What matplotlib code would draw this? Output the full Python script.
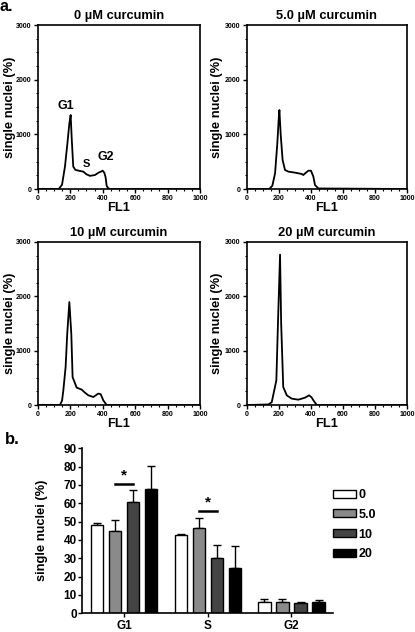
import numpy as np
import matplotlib
matplotlib.use('Agg')
import matplotlib.pyplot as plt
from matplotlib.patches import Patch

plt.rcParams['font.family'] = ['Liberation Sans', 'DejaVu Sans']
plt.rcParams['font.weight'] = 'bold'

# --- panel a: DNA content histograms ---
titles = ['0 µM curcumin', '5.0 µM curcumin', '10 µM curcumin', '20 µM curcumin']

fl_0 = [0, 130, 150, 168, 183, 195, 203, 210, 219, 232, 260, 281, 300, 322, 353,
        375, 390, 400, 410, 418, 425, 435, 445, 1000]
cnt_0 = [0, 0, 80, 410, 835, 1200, 1354, 900, 410, 350, 330, 318, 270, 240, 256,
         300, 318, 335, 300, 220, 55, 15, 0, 0]

fl_5 = [0, 140, 160, 177, 191, 200, 204, 212, 224, 239, 260, 300, 343, 353, 370,
        385, 401, 416, 426, 447, 1000]
cnt_5 = [0, 0, 60, 287, 835, 1300, 1445, 1000, 530, 348, 318, 300, 275, 256, 300,
         335, 335, 225, 73, 10, 0]

fl_10 = [0, 137, 150, 158, 172, 182, 195, 207, 215, 240, 271, 290, 312, 343, 373,
         388, 404, 425, 1000]
cnt_10 = [0, 0, 80, 270, 700, 1313, 1895, 1313, 515, 320, 283, 230, 178, 147, 210,
          200, 86, 0, 0]

fl_20 = [0, 135, 156, 172, 185, 195, 208, 215, 228, 250, 281, 322, 364, 389, 405,
         416, 437, 1000]
cnt_20 = [0, 10, 50, 270, 455, 1500, 2767, 1500, 330, 178, 117, 98, 135, 178, 140,
          86, 0, 0]

hist_x = [fl_0, fl_5, fl_10, fl_20]
hist_y = [cnt_0, cnt_5, cnt_10, cnt_20]

# --- panel b: cell cycle phases ---
phases = ['G1', 'S', 'G2']
doses = ['0', '5.0', '10', '20']
means = [[48.2, 42.5, 6.4],
         [45.1, 46.7, 6.4],
         [60.9, 30.3, 5.5],
         [68.0, 24.5, 6.4]]
errs = [[1.2, 0.8, 1.2],
        [5.8, 5.1, 1.4],
        [6.4, 7.0, 0.4],
        [12.4, 12.2, 0.9]]
bar_colors = ['white', '#8a8a8a', '#444444', 'black']

W, H = 415, 632
fig = plt.figure(figsize=(W / 100, H / 100), dpi=100)


def fx(px):
    return px / W


def fy(py):
    return 1 - py / H


boxes = [(37.7, 200, 25, 189), (246.7, 407, 25, 189),
         (37.7, 200, 242, 405), (246.7, 407, 242, 405)]
ylab_x = [-0.134, -0.148, -0.134, -0.148]

axes = []
for i, (l, r, t, b) in enumerate(boxes):
    ax = fig.add_axes([fx(l), fy(b), fx(r - l), fy(t) - fy(b)])
    ax.plot(hist_x[i], hist_y[i], color='black', lw=1.3)
    ax.set_xlim(0, 1000)
    ax.set_ylim(0, 3000)
    ax.set_xticks([0, 200, 400, 600, 800, 1000])
    ax.set_xticks(np.arange(0, 1001, 50), minor=True)
    ax.set_yticks([0, 1000, 2000, 3000])
    ax.set_yticks(np.arange(0, 3001, 250), minor=True)
    ax.tick_params(axis='both', which='major', labelsize=5, length=3, width=1, pad=1.5)
    ax.tick_params(axis='both', which='minor', length=1.5, width=0.8)
    for s in ax.spines.values():
        s.set_linewidth(1.2)
    ax.set_title(titles[i], fontsize=9.3, fontweight='bold', pad=4)
    ax.set_xlabel('FL1', fontsize=9.3, fontweight='bold', labelpad=0)
    ax.set_ylabel('single nuclei (%)', fontsize=9.3, fontweight='bold')
    ax.yaxis.set_label_coords(ylab_x[i], 0.5)
    axes.append(ax)

a0 = axes[0]
a0.text(171, 1520, 'G1', ha='center', va='center', fontsize=9, fontweight='bold')
a0.text(300, 457, 'S', ha='center', va='center', fontsize=8, fontweight='bold')
a0.text(420, 585, 'G2', ha='center', va='center', fontsize=9, fontweight='bold')

fig.text(fx(0), fy(-1), 'a.', fontsize=11.5, fontweight='bold', va='top', ha='left')
fig.text(fx(5), fy(440), 'b.', fontsize=12, fontweight='bold', va='center', ha='left')

# bar chart
bx = fig.add_axes([fx(82.3), fy(613.3), fx(251), fy(448.3) - fy(613.3)])
pos = np.arange(len(phases))
pitch = 0.216
width = 0.147
for k in range(len(doses)):
    xk = pos + (k - 1.5) * pitch
    bx.bar(xk, means[k], width=width, color=bar_colors[k], edgecolor='black',
           linewidth=1, zorder=2)
    bx.errorbar(xk, means[k], yerr=[np.zeros(3), errs[k]], fmt='none',
                ecolor='black', elinewidth=1, capsize=3, capthick=1, zorder=1)

# significance markers
for gx, ly in [(0, 70.8), (1, 55.8)]:
    bx.plot([gx - 0.108, gx + 0.11], [ly, ly], color='black', lw=1.8)
    bx.text(gx, ly + 0.8, '*', ha='center', va='bottom', fontsize=11,
            fontweight='bold')

bx.set_xlim(-0.5, 2.5)
bx.set_ylim(0, 90)
bx.set_yticks(np.arange(0, 91, 10))
bx.set_xticks(pos)
bx.set_xticklabels(phases)
bx.spines['top'].set_visible(False)
bx.spines['right'].set_visible(False)
bx.spines['left'].set_linewidth(1.2)
bx.spines['bottom'].set_linewidth(1.2)
bx.tick_params(axis='y', labelsize=8.5, length=3, width=1, pad=1)
bx.tick_params(axis='x', labelsize=8.5, length=3, width=1, pad=2)
bx.set_ylabel('single nuclei (%)', fontsize=9.3, fontweight='bold')
bx.yaxis.set_label_coords(-0.135, 0.5)

handles = [Patch(facecolor=c, edgecolor='black', linewidth=1) for c in bar_colors]
fig.legend(handles, doses, loc='upper left', bbox_to_anchor=(fx(333), fy(489)),
           frameon=False, handlelength=1.8, handleheight=0.6,
           handletextpad=0.25, labelspacing=0.62, borderpad=0, borderaxespad=0,
           prop={'weight': 'bold', 'size': 9})

fig.savefig('out.png', dpi=100)
